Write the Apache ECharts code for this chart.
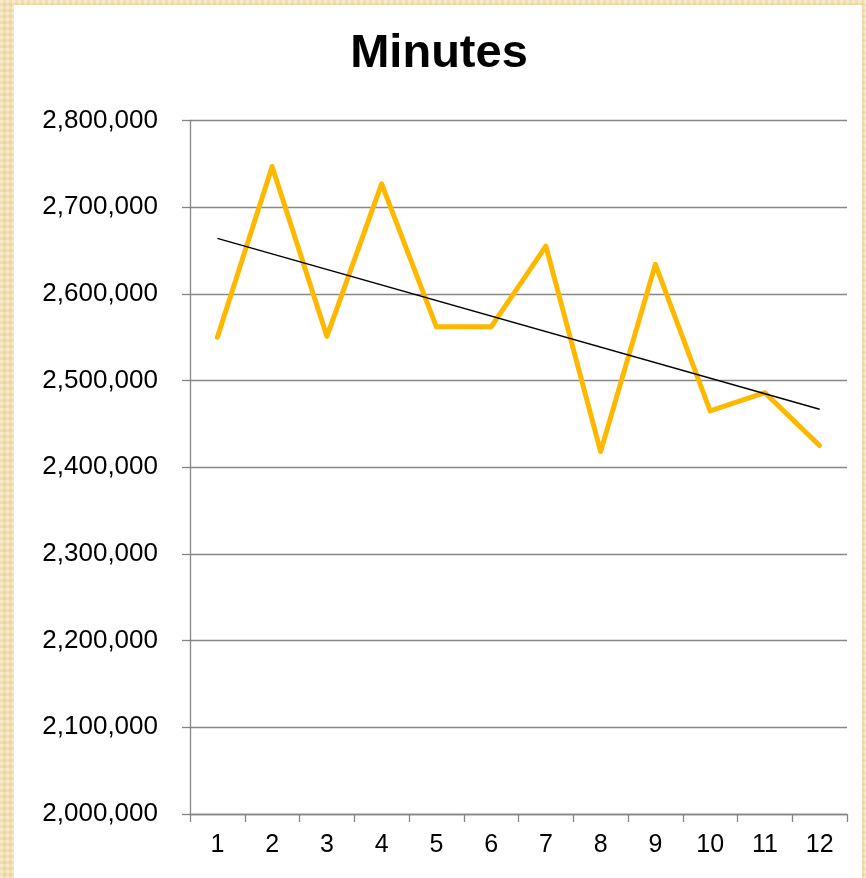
<!DOCTYPE html>
<html>
<head>
<meta charset="utf-8">
<script src="https://cdn.jsdelivr.net/npm/echarts@6/dist/echarts.min.js"></script>
<style>
  html, body { margin: 0; padding: 0; width: 866px; height: 878px; overflow: hidden; }
  body {
    background-color: #f3deb1;
    background-image:
      radial-gradient(circle at 25% 25%, #f8e9c9 1.5px, transparent 2.2px),
      radial-gradient(circle at 75% 75%, #eed4a2 1.5px, transparent 2.2px);
    background-size: 6px 6px;
  }
  #panel { position: absolute; left: 14px; top: 5px; width: 848px; height: 873px; background: #ffffff; }
  #chart { position: absolute; left: 0; top: 0; width: 866px; height: 878px; }
</style>
</head>
<body>
<div id="panel"></div>
<div id="chart"></div>
<script>
const categories = ['1','2','3','4','5','6','7','8','9','10','11','12'];
const minutes = [2550000, 2747000, 2551000, 2727000, 2562000, 2562000, 2655000, 2418000, 2634000, 2465000, 2486000, 2425000];
const trendEnds = [2664000, 2467000];
const yTicks = { min: 2000000, max: 2800000, interval: 100000 };

const chart = echarts.init(document.getElementById('chart'), null, { renderer: 'canvas' });
const font = '"Liberation Sans", Arial, sans-serif';
chart.setOption({
  backgroundColor: 'transparent',
  animation: false,
  title: {
    text: 'Minutes',
    left: 434, top: 26, textAlign: 'center',
    textStyle: { fontFamily: font, fontSize: 47, fontWeight: 'bold', color: '#000' }
  },
  grid: { left: 190, right: 19, top: 120.5, bottom: 64, containLabel: false },
  xAxis: {
    type: 'category',
    data: categories,
    boundaryGap: true,
    axisLine: { show: true, lineStyle: { color: '#858585', width: 1.3 } },
    axisTick: { show: true, interval: 0, length: 8, lineStyle: { color: '#858585', width: 1.3 } },
    axisLabel: { interval: 0, margin: 19, fontFamily: font, fontSize: 25, color: '#000' },
    splitLine: { show: false }
  },
  yAxis: {
    type: 'value',
    min: yTicks.min, max: yTicks.max, interval: yTicks.interval,
    axisLine: { show: true, lineStyle: { color: '#858585', width: 1.3 } },
    axisTick: { show: true, length: 8, lineStyle: { color: '#858585', width: 1.3 } },
    axisLabel: {
      margin: 32, fontFamily: font, fontSize: 26, color: '#000',
      formatter: v => v.toLocaleString('en-US')
    },
    splitLine: { show: true, lineStyle: { color: '#878787', width: 1.3 } }
  },
  series: [
    {
      type: 'line',
      data: minutes,
      symbol: 'none',
      lineStyle: { color: '#FFB800', width: 5, cap: 'round', join: 'round' },
      z: 2
    },
    {
      type: 'line',
      data: [[0, trendEnds[0]], [categories.length - 1, trendEnds[1]]],
      symbol: 'none',
      lineStyle: { color: '#000', width: 1.5 },
      z: 3
    }
  ]
});
</script>
</body>
</html>
